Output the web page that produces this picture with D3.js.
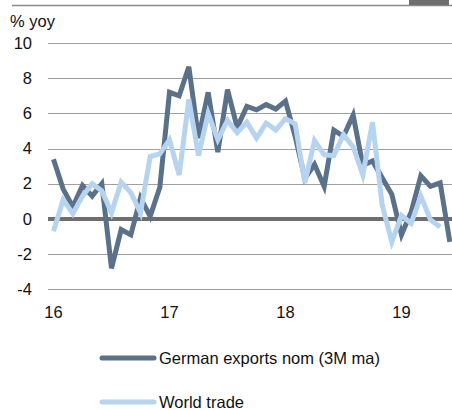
<!DOCTYPE html>
<html>
<head>
<meta charset="utf-8">
<script src="https://cdn.jsdelivr.net/npm/d3@7"></script>
<style>
  html, body { margin: 0; padding: 0; background: #fff; }
  svg { display: block; font-family: Arial, "Liberation Sans", sans-serif; }
</style>
</head>
<body>
<svg id="chart" width="452" height="410"></svg>
<script>
// Months from Jan 2016 (index 0) to Jun 2019 (index 41)
const germanExports = [3.4, 1.7, 0.7, 1.9, 1.3, 2.0, -2.8, -0.6, -0.9, 1.2, 0.15, 1.8,
  7.2, 7.0, 8.65, 4.6, 7.2, 3.8, 7.35, 5.2, 6.4, 6.2, 6.5, 6.25,
  6.7, 4.7, 2.3, 3.1, 1.85, 5.05, 4.7, 5.9, 3.05, 3.3, 2.35, 1.4,
  -0.9, 0.4, 2.45, 1.85, 2.05, -1.3];
const worldTrade = [-0.7, 1.1, 0.3, 1.3, 2.0, 1.6, 0.35, 2.1, 1.5, 0.35, 3.55, 3.7,
  4.5, 2.5, 6.8, 3.6, 6.0, 4.5, 5.6, 4.9, 5.5, 4.6, 5.45, 5.05,
  5.7, 5.4, 2.05, 4.45, 3.65, 3.6, 4.8, 4.1, 2.5, 5.5, 0.8, -1.3,
  0.2, -0.25, 1.3, -0.05, -0.45];
const yTicks = [-4, -2, 0, 2, 4, 6, 8, 10];
const xTickIdx = [0, 12, 24, 36];
const xTickLabels = ["16", "17", "18", "19"];
const seriesNames = ["German exports nom (3M ma)", "World trade"];
const seriesColors = ["#5a7189", "#b6d4f0"];

const svg = d3.select("#chart");
const x = d3.scaleLinear().domain([0, 12]).range([53.5, 169.5]);
const y = d3.scaleLinear().domain([-4, 10]).range([289.4, 43]);
const fs = 16.5;

// top decoration
svg.append("line").attr("x1", 12).attr("x2", 452).attr("y1", 5.5).attr("y2", 5.5)
  .attr("stroke", "#8a8a8a").attr("stroke-width", 1.5);
svg.append("rect").attr("x", 409).attr("y", 0).attr("width", 40).attr("height", 5)
  .attr("fill", "#6e6e6e");

// y label
svg.append("text").attr("x", 10).attr("y", 27).attr("font-size", fs).attr("fill", "#111").text("% yoy");

// grid
svg.append("g").selectAll("line").data(yTicks.filter(d => d !== 0)).join("line")
  .attr("x1", 48).attr("x2", 452)
  .attr("y1", d => Math.round(y(d)) + 0.5).attr("y2", d => Math.round(y(d)) + 0.5)
  .attr("stroke", "#a0a0a0").attr("stroke-width", 1);

// y tick labels
svg.append("g").selectAll("text").data(yTicks).join("text")
  .attr("x", 32).attr("y", d => y(d) + 5.5)
  .attr("text-anchor", "end").attr("font-size", fs).attr("fill", "#111")
  .text(d => d);

// x tick labels
svg.append("g").selectAll("text").data(xTickIdx).join("text")
  .attr("x", d => x(d)).attr("y", 318)
  .attr("text-anchor", "middle").attr("font-size", fs).attr("fill", "#111")
  .text((d, i) => xTickLabels[i]);

// zero line
svg.append("line").attr("x1", 48).attr("x2", 452).attr("y1", y(0)).attr("y2", y(0))
  .attr("stroke", "#6e6e6e").attr("stroke-width", 4);

const line = d3.line().x((d, i) => x(i)).y(d => y(d)).curve(d3.curveLinear);
svg.append("path").datum(germanExports).attr("d", line)
  .attr("fill", "none").attr("stroke", seriesColors[0]).attr("stroke-width", 5)
  .attr("stroke-linejoin", "miter");
svg.append("path").datum(worldTrade).attr("d", line)
  .attr("fill", "none").attr("stroke", seriesColors[1]).attr("stroke-width", 5)
  .attr("stroke-linejoin", "miter");

// legend
const legY = [358, 402];
seriesNames.forEach((name, i) => {
  svg.append("line").attr("x1", 102).attr("x2", 154).attr("y1", legY[i]).attr("y2", legY[i])
    .attr("stroke", seriesColors[i]).attr("stroke-width", 5).attr("stroke-linecap", "round");
  svg.append("text").attr("x", 159).attr("y", legY[i] + 6).attr("font-size", fs).attr("fill", "#111")
    .text(name);
});
</script>
</body>
</html>
